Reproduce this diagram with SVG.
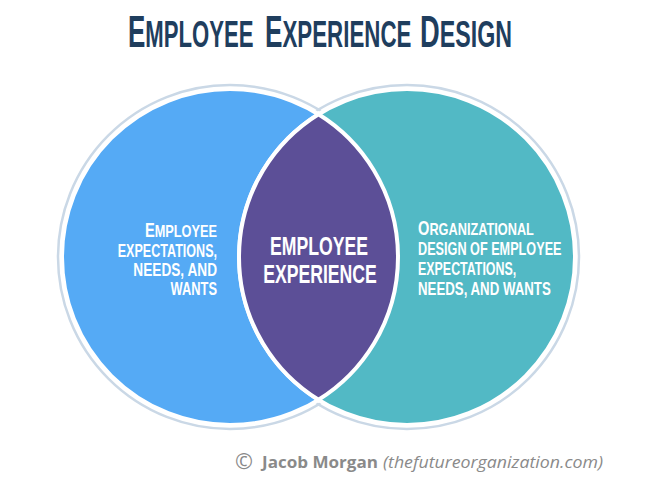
<svg xmlns="http://www.w3.org/2000/svg" width="671" height="496" viewBox="0 0 671 496">
  <style>
    .cond { font-family: "Liberation Sans", Arial, sans-serif; font-weight: bold; fill: #ffffff; }
    .lbl { font-size: 18.5px; }
    .title { font-family: "Liberation Sans", Arial, sans-serif; font-weight: bold; fill: #1f3e5e; }
    .tb { font-size: 44px; }
    .ts { font-size: 37.5px; }
    .ring { fill: none; stroke: #cad8e6; stroke-width: 2.5; }
    .disc { stroke: #ffffff; stroke-width: 4; }
    .foot { font-family: "Open Sans", "Liberation Sans", sans-serif; fill: #8a8a8a; }
  </style>
  <rect width="671" height="496" fill="#ffffff"/>

  <g id="title">
    <text class="title" transform="translate(128 47) scale(0.59 1)"><tspan class="tb">E</tspan><tspan class="ts">MPLOYEE</tspan></text>
    <text class="title" transform="translate(265 47) scale(0.595 1)"><tspan class="tb">E</tspan><tspan class="ts">XPERIENCE</tspan></text>
    <text class="title" transform="translate(420 47) scale(0.62 1)"><tspan class="tb">D</tspan><tspan class="ts">ESIGN</tspan></text>
  </g>

  <g id="rings">
    <circle class="ring" cx="230" cy="257" r="172"/>
    <circle class="ring" cx="407" cy="257" r="172"/>
  </g>

  <g id="node-left">
    <circle class="disc" cx="230" cy="257" r="168" fill="#55aaf5"/>
  </g>
  <g id="node-right">
    <circle class="disc" cx="407" cy="257" r="168" fill="#52b9c5"/>
  </g>
  <g id="node-center">
    <path d="M318.5 114.2 A168 168 0 0 1 318.5 399.8 A168 168 0 0 1 318.5 114.2 Z" fill="#5c4f97" stroke="#ffffff" stroke-width="4"/>
    <text class="cond" font-size="25" text-anchor="middle" transform="translate(319 255) scale(0.706 1)">EMPLOYEE</text>
    <text class="cond" font-size="25" text-anchor="middle" transform="translate(320 283) scale(0.706 1)">EXPERIENCE</text>
  </g>

  <g id="label-left">
    <text class="cond" text-anchor="end" transform="translate(217 237) scale(0.75 1)"><tspan font-size="19.5">E</tspan><tspan font-size="17">MPLOYEE</tspan></text>
    <text class="cond lbl" text-anchor="end" transform="translate(217 257) scale(0.679 1)">EXPECTATIONS,</text>
    <text class="cond lbl" text-anchor="end" transform="translate(217 276) scale(0.738 1)">NEEDS, AND</text>
    <text class="cond lbl" text-anchor="end" transform="translate(217 295) scale(0.696 1)">WANTS</text>
  </g>

  <g id="label-right">
    <text class="cond" transform="translate(418 235) scale(0.75 1)"><tspan font-size="19.5">O</tspan><tspan font-size="17">RGANIZATIONAL</tspan></text>
    <text class="cond lbl" transform="translate(418 255) scale(0.685 1)">DESIGN OF EMPLOYEE</text>
    <text class="cond lbl" transform="translate(418 275) scale(0.672 1)">EXPECTATIONS,</text>
    <text class="cond lbl" transform="translate(418 295) scale(0.717 1)">NEEDS, AND WANTS</text>
  </g>

  <g id="footer">
    <text class="foot" x="235" y="469" font-size="21" textLength="18" lengthAdjust="spacingAndGlyphs">©</text>
    <text class="foot" x="262" y="468" font-size="15.5" font-weight="bold" textLength="116" lengthAdjust="spacingAndGlyphs">Jacob Morgan</text>
    <text class="foot" x="383" y="468" font-size="15.5" font-style="italic" textLength="220" lengthAdjust="spacingAndGlyphs">(thefutureorganization.com)</text>
  </g>
</svg>
